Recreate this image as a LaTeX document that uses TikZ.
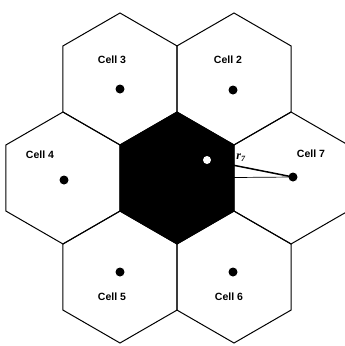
\documentclass[tikz,border=0pt]{standalone}
\usepackage{fontspec}
\setmainfont{Liberation Sans}
\newfontfamily\serifbi{Liberation Serif}
\begin{document}
\begin{tikzpicture}[x=1pt,y=-1pt,
  hexline/.style={draw=black, line width=1pt},
  celldot/.style={circle, fill=black, inner sep=0pt, minimum size=9pt},
  lbl/.style={font=\fontsize{10.5}{12}\selectfont\bfseries, inner sep=0pt}]
\useasboundingbox (0,0) rectangle (345,346);
\clip (0,0) rectangle (345,346);
\def\R{66}
\coordinate (c1) at (177,178);
\coordinate (c2) at (234,79);
\coordinate (c3) at (120,79);
\coordinate (c4) at (63,178);
\coordinate (c7) at (291,178);
\coordinate (c5) at (120,277);
\coordinate (c6) at (234,277);
\foreach \c in {c2,c3,c4,c5,c6,c7}{
  \draw[hexline] ([shift={(30:\R)}]\c) \foreach \a in {90,150,210,270,330}{-- ([shift={(\a:\R)}]\c)} -- cycle;
}
\filldraw[hexline, fill=black] ([shift={(30:\R)}]c1) \foreach \a in {90,150,210,270,330}{-- ([shift={(\a:\R)}]c1)} -- cycle;
% dots
\node[celldot] (d3) at (120,89) {};
\node[celldot] (d2) at (233,90) {};
\node[celldot] (d4) at (64,180) {};
\node[celldot] (d7) at (293,177) {};
\node[celldot] (d5) at (120,272) {};
\node[celldot] (d6) at (233,272) {};
\node[circle, fill=white, inner sep=0pt, minimum size=8pt] (ms) at (207,160) {};
% lines
\draw[line width=0.7pt] (c1) -- (d7.center);
\draw[line width=1.5pt] (ms) -- (d7.center);
% labels
\node[lbl] (l3) at (112,60) {Cell 3};
\node[lbl] (l2) at (228,60) {Cell 2};
\node[lbl] (l4) at (40,155) {Cell 4};
\node[lbl] (l7) at (311,154) {Cell 7};
\node[lbl] (l5) at (112,297) {Cell 5};
\node[lbl] (l6) at (229,297) {Cell 6};
\node[inner sep=0pt, font=\fontsize{12}{13}\selectfont\serifbi\bfseries\itshape] (r7) at (241,158) {r\textsubscript{7}};
\end{tikzpicture}
\end{document}
